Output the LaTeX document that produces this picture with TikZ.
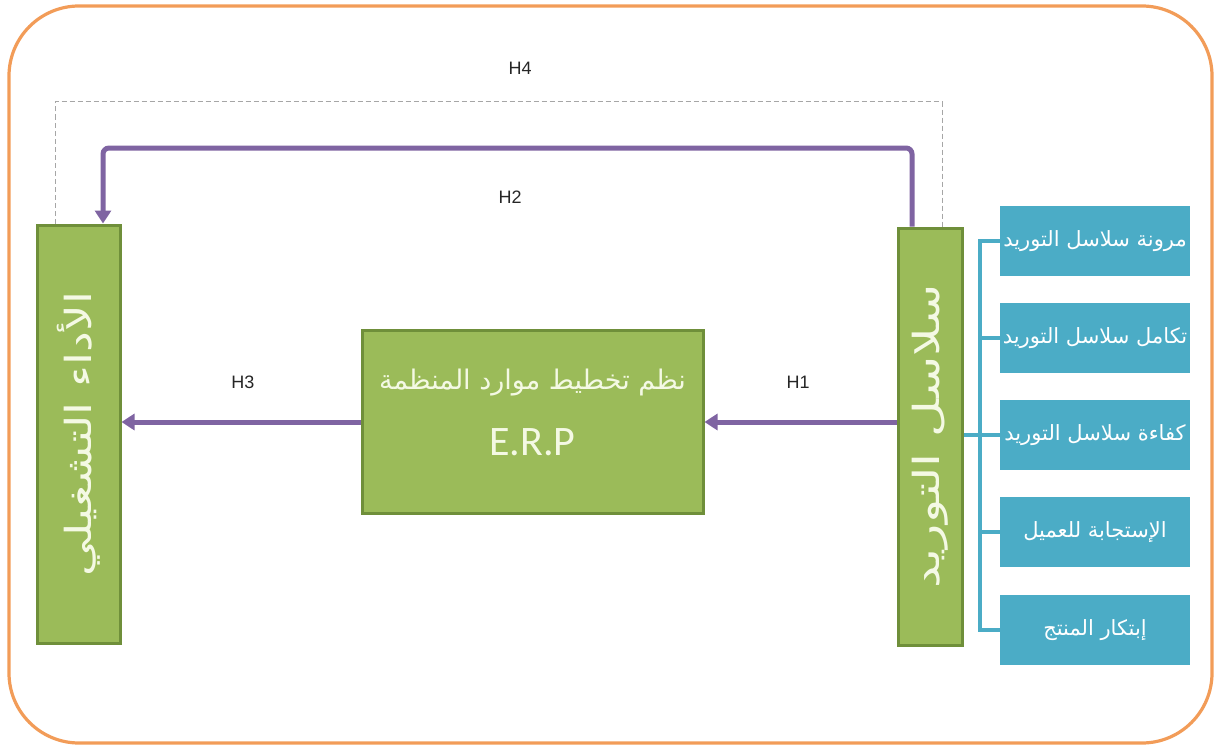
\documentclass[tikz,border=0pt]{standalone}
\usepackage{fontspec}
\setmainfont{Liberation Sans}
\newfontfamily\arabicfont[Script=Arabic]{DejaVu Sans}
\newfontfamily\calib{Carlito}
\TeXXeTstate=1
\usetikzlibrary{arrows.meta}
\definecolor{grn}{HTML}{9BBB59}
\definecolor{grnd}{HTML}{6F8F3A}
\definecolor{grntxt}{HTML}{F4F9E4}
\definecolor{blu}{HTML}{4BACC6}
\definecolor{pur}{HTML}{7F64A2}
\definecolor{org}{HTML}{F29C58}
\tikzset{
  gbox/.style={draw=grnd, line width=1.5pt, fill=grn, text=grntxt, inner sep=0pt, align=center},
  bbox/.style={fill=blu, text=white, minimum width=95pt, minimum height=35pt, inner sep=0pt, font=\arabicfont\fontsize{10.5}{12}\selectfont},
  arr/.style={draw=pur, line width=2.5pt, -{Triangle[width=8pt,length=6.5pt]}},
  dsh/.style={draw=gray!70, line width=0.5pt, dash pattern=on 2.5pt off 1.5pt},
  brk/.style={draw=blu, line width=1.6pt},
  hlab/.style={font=\fontsize{9}{10}\selectfont, text=black!85}
}
\begin{document}
\begin{tikzpicture}[x=0.5pt,y=-0.5pt]
\useasboundingbox (0,0) rectangle (1219,749);
\draw[org, line width=1.6pt, rounded corners=35pt] (9,6) rectangle (1212,743);

% main boxes
\node[gbox, minimum width=41.5pt, minimum height=209pt] (L) at (78.5,434)
  {\rotatebox{90}{\scalebox{1.3}[1]{\arabicfont\fontsize{18}{20}\selectfont\beginR الأداء التشغيلي\endR}}};
\node[gbox, minimum width=32pt, minimum height=208.5pt] (R) at (930,436.5)
  {\rotatebox{90}{\scalebox{1.4}[1]{\arabicfont\fontsize{18}{20}\selectfont\beginR سلاسل التوريد\endR}}};
\node[gbox, minimum width=170.5pt, minimum height=91.5pt] (C) at (532.5,422)
  {{\arabicfont\fontsize{13.5}{16}\selectfont\beginR نظم تخطيط موارد المنظمة\endR}\\[15pt]
   {\calib\fontsize{21}{24}\selectfont E.R.P}\rule[-10pt]{0pt}{1pt}};

% blue boxes
\node[bbox] (B1) at (1095,241) {\beginR مرونة سلاسل التوريد\endR};
\node[bbox] (B2) at (1095,338) {\beginR تكامل سلاسل التوريد\endR};
\node[bbox] (B3) at (1095,435) {\beginR كفاءة سلاسل التوريد\endR};
\node[bbox] (B4) at (1095,532) {\beginR الإستجابة للعميل\endR};
\node[bbox] (B5) at (1095,630) {\beginR إبتكار المنتج\endR};

% bracket
\coordinate (bx) at (980,0);
\draw[brk] (B1.west) -- (B1.west -| bx) -- (B5.west -| bx) -- (B5.west);
\draw[brk] (B2.west -| bx) -- (B2.west);
\draw[brk] (B3.west -| bx) -- (B3.west);
\draw[brk] (B4.west -| bx) -- (B4.west);
\draw[brk] (R.east |- B3.west) -- (B3.west -| bx);

% dashed H4
\coordinate (d1) at (55,102);
\coordinate (d2) at (942,102);
\draw[dsh] (L.north -| d1) -- (d1) -- (d2) -- (d2 |- R.north);

% H2
\coordinate (h2a) at (912,148);
\coordinate (h2b) at (103,148);
\draw[arr, rounded corners=3pt] (R.north -| h2a) -- (h2a) -- (h2b) -- (h2b |- L.north);

% H1, H3
\draw[arr] (R.west |- C.east) -- (C.east);
\draw[arr] (C.west) -- (C.west -| L.east);

% labels
\node[hlab] (H4) at (520,68) {H4};
\node[hlab] (H2) at (510,197) {H2};
\node[hlab] (H3) at (243,382) {H3};
\node[hlab] (H1) at (798,382) {H1};
\end{tikzpicture}
\end{document}
